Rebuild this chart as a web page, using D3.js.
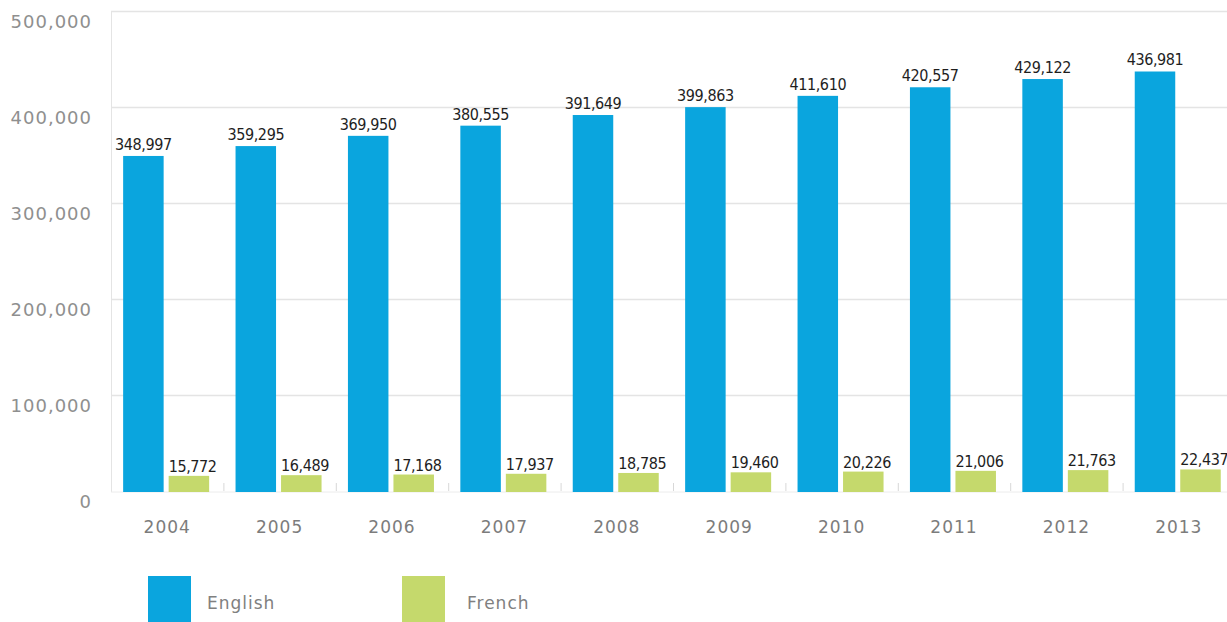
<!DOCTYPE html>
<html>
<head>
<meta charset="utf-8">
<script src="https://cdn.jsdelivr.net/npm/d3@7"></script>
<style>
	html, body { margin: 0; padding: 0; background: #ffffff; }
	svg { display: block; }
	.ylabel { font-family: "DejaVu Sans", sans-serif; font-size: 18px; fill: #8f8f8f; letter-spacing: 1px; }
	.xlabel { font-family: "DejaVu Sans", sans-serif; font-size: 17px; fill: #7c7c7c; letter-spacing: 1px; }
	.value { font-family: "DejaVu Sans Condensed", "DejaVu Sans", sans-serif; font-size: 16px; fill: #1e1e1e; letter-spacing: -0.4px; }
	.legend text { font-family: "DejaVu Sans", sans-serif; font-size: 17px; fill: #808080; letter-spacing: 1px; }
</style>
</head>
<body>
<div id="chart"></div>
<script>
var years = ["2004", "2005", "2006", "2007", "2008", "2009", "2010", "2011", "2012", "2013"];
var seriesNames = ["English", "French"];
var english = [348997, 359295, 369950, 380555, 391649, 399863, 411610, 420557, 429122, 436981];
var french = [15772, 16489, 17168, 17937, 18785, 19460, 20226, 21006, 21763, 22437];
var yTicks = [0, 100000, 200000, 300000, 400000, 500000];

var colors = { English: "#0aa5de", French: "#c5d96c" };

(function () {
	var width = 1227, height = 622;
	var left = 111, right = 1235, top = 11, bottom = 491;

	var svg = d3.select("#chart").append("svg")
		.attr("width", width)
		.attr("height", height);

	var x = d3.scaleBand().domain(years).range([left, right]).padding(0);
	var xInner = d3.scaleBand().domain(seriesNames).range([0, x.bandwidth()])
		.paddingInner(0.11).paddingOuter(0.29).align(0.46);
	var y = d3.scaleLinear().domain([0, 500000]).range([bottom, top]);

	var fmt = d3.format(",");

	// grid lines
	svg.append("g").attr("class", "grid")
		.selectAll("line")
		.data(yTicks.filter(function (d) { return d > 0; }))
		.join("line")
		.attr("x1", left).attr("x2", width)
		.attr("y1", function (d) { return y(d) + 0.5; })
		.attr("y2", function (d) { return y(d) + 0.5; })
		.attr("stroke", "#e4e4e4")
		.attr("stroke-width", 1.5);

	// y axis line + baseline
	svg.append("line")
		.attr("x1", left + 0.5).attr("x2", left + 0.5)
		.attr("y1", top).attr("y2", bottom + 1)
		.attr("stroke", "#e4e4e4");
	svg.append("line")
		.attr("x1", left).attr("x2", width)
		.attr("y1", bottom + 1).attr("y2", bottom + 1)
		.attr("stroke", "#ececec");

	// small separators between categories
	svg.append("g")
		.selectAll("line")
		.data(years.slice(1))
		.join("line")
		.attr("x1", function (d) { return x(d) + 0.5; })
		.attr("x2", function (d) { return x(d) + 0.5; })
		.attr("y1", bottom - 8).attr("y2", bottom)
		.attr("stroke", "#d8d8d8");

	// y labels sit a bit below their grid line
	svg.append("g")
		.selectAll("text")
		.data(yTicks)
		.join("text")
		.attr("class", "ylabel")
		.attr("x", 92)
		.attr("y", function (d) { return y(d) + 17; })
		.attr("text-anchor", "end")
		.text(function (d) { return fmt(d); });

	var groups = svg.append("g")
		.selectAll("g")
		.data(years)
		.join("g")
		.attr("transform", function (d) { return "translate(" + x(d) + ",0)"; });

	groups.each(function (yr, i) {
		var g = d3.select(this);
		var vals = [
			{ name: "English", value: english[i] },
			{ name: "French", value: french[i] }
		];

		g.selectAll("rect")
			.data(vals)
			.join("rect")
			.attr("x", function (d) { return xInner(d.name); })
			.attr("y", function (d) { return y(d.value); })
			.attr("width", xInner.bandwidth())
			.attr("height", function (d) { return bottom - y(d.value) + 1; })
			.attr("fill", function (d) { return colors[d.name]; });

		g.selectAll("text.value")
			.data(vals)
			.join("text")
			.attr("class", "value")
			.attr("x", function (d) {
				return d.name == "English" ? xInner(d.name) + xInner.bandwidth() / 2 : xInner(d.name);
			})
			.attr("y", function (d) { return y(d.value) - (d.name == "English" ? 6 : 4); })
			.attr("text-anchor", function (d) { return d.name == "English" ? "middle" : "start"; })
			.text(function (d) { return fmt(d.value); });
	});

	// x labels
	svg.append("g")
		.selectAll("text")
		.data(years)
		.join("text")
		.attr("class", "xlabel")
		.attr("x", function (d) { return x(d) + x.bandwidth() / 2; })
		.attr("y", 533)
		.attr("text-anchor", "middle")
		.text(function (d) { return d; });

	// legend
	var legend = svg.append("g").attr("class", "legend");
	var legendX = [148, 402];
	seriesNames.forEach(function (name, i) {
		legend.append("rect")
			.attr("x", legendX[i])
			.attr("y", 576)
			.attr("width", 43)
			.attr("height", 50)
			.attr("fill", colors[name]);
		legend.append("text")
			.attr("x", legendX[i] + 59 + (i == 1 ? 6 : 0))
			.attr("y", 609)
			.text(name);
	});
})();
</script>
</body>
</html>
